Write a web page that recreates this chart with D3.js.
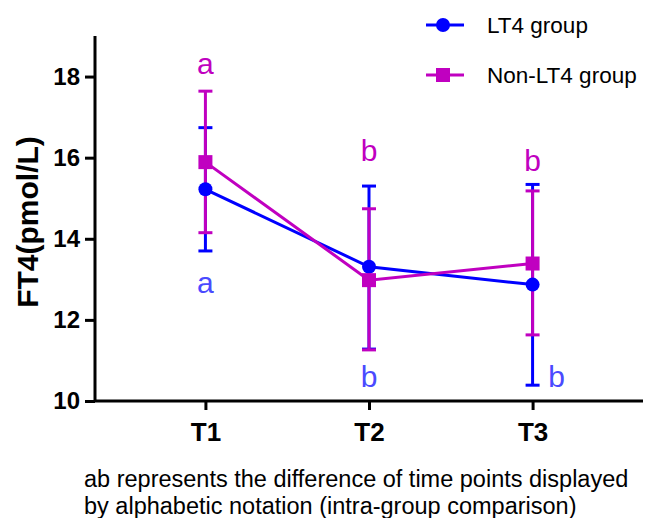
<!DOCTYPE html>
<html>
<head>
<meta charset="utf-8">
<script src="https://cdn.jsdelivr.net/npm/d3@7"></script>
<style>
  body { margin: 0; background: #fff; }
  text { font-family: "Liberation Sans", Arial, sans-serif; }
</style>
</head>
<body>
<svg id="chart" width="650" height="518"></svg>
<script>
// time points and group data (pmol/L)
const timePoints = ["T1", "T2", "T3"];
const yTicks = [10, 12, 14, 16, 18];

const lt4Mean  = [15.22, 13.31, 12.87];
const lt4Upper = [16.74, 15.30, 15.34];
const lt4Lower = [13.70, 11.28, 10.39];

const nonMean  = [15.89, 12.98, 13.39];
const nonUpper = [17.64, 14.74, 15.18];
const nonLower = [14.15, 11.26, 11.63];

// significance letters and where they sit (in data units)
const lt4Letters  = ["a", "b", "b"];
const lt4LetterY  = [12.91, 10.6, 10.6];
const nonLetters  = ["a", "b", "b"];
const nonLetterY  = [18.33, 16.17, 15.94];

const BLUE = "#0000ff";
const MAGENTA = "#c000c0";

const svg = d3.select("#chart");
const m = { left: 95, right: 643, top: 36, bottom: 401 };

const x = d3.scalePoint().domain(timePoints).range([m.left, m.right]).padding(0.675);
const y = d3.scaleLinear().domain([10, 19]).range([m.bottom, m.top]);

// axes
const yAxis = svg.append("g")
  .attr("transform", `translate(${m.left},0)`)
  .call(d3.axisLeft(y).tickValues(yTicks).tickSize(10).tickPadding(5));
const xAxis = svg.append("g")
  .attr("transform", `translate(0,${m.bottom})`)
  .call(d3.axisBottom(x).tickSize(9).tickPadding(13));

[yAxis, xAxis].forEach(g => {
  g.select(".domain").attr("stroke", "#000").attr("stroke-width", 3);
  g.selectAll(".tick line").attr("stroke", "#000").attr("stroke-width", 3);
  g.selectAll(".tick text")
    .attr("fill", "#000")
    .attr("font-weight", "bold");
});
yAxis.selectAll(".tick text").attr("font-size", 24);
xAxis.selectAll(".tick text").attr("font-size", 26).attr("dy", "0.71em");
yAxis.select(".domain").attr("d", `M0,${m.top}V${m.bottom}`);
xAxis.select(".domain").attr("d", `M${m.left},0H${m.right}`);

svg.append("text")
  .attr("transform", `translate(27,222) rotate(-90)`)
  .attr("text-anchor", "middle")
  .attr("dominant-baseline", "central")
  .attr("font-size", 30)
  .attr("font-weight", "bold")
  .text("FT4(pmol/L)");

const groups = [
  { name: "LT4 group", color: BLUE, mean: lt4Mean, lo: lt4Lower, hi: lt4Upper, marker: "circle" },
  { name: "Non-LT4 group", color: MAGENTA, mean: nonMean, lo: nonLower, hi: nonUpper, marker: "square" }
];

const capHalf = 7;

// error bars
groups.forEach(g => {
  const eb = svg.append("g").attr("stroke", g.color).attr("stroke-width", 3);
  timePoints.forEach((t, i) => {
    const cx = x(t);
    eb.append("line").attr("x1", cx).attr("x2", cx).attr("y1", y(g.lo[i])).attr("y2", y(g.hi[i]));
    eb.append("line").attr("x1", cx - capHalf).attr("x2", cx + capHalf).attr("y1", y(g.lo[i])).attr("y2", y(g.lo[i]));
    eb.append("line").attr("x1", cx - capHalf).attr("x2", cx + capHalf).attr("y1", y(g.hi[i])).attr("y2", y(g.hi[i]));
  });
});

// lines
const line = d3.line().x((d, i) => x(timePoints[i])).y(d => y(d));
groups.forEach(g => {
  svg.append("path")
    .datum(g.mean)
    .attr("d", line)
    .attr("fill", "none")
    .attr("stroke", g.color)
    .attr("stroke-width", 3);
});

// markers
function drawMarker(sel, type, cx, cy, color) {
  if (type === "circle") {
    sel.append("circle").attr("cx", cx).attr("cy", cy).attr("r", 7).attr("fill", color);
  } else {
    sel.append("rect").attr("x", cx - 7).attr("y", cy - 7).attr("width", 14).attr("height", 14).attr("fill", color);
  }
}
groups.forEach(g => {
  const mk = svg.append("g");
  g.mean.forEach((v, i) => drawMarker(mk, g.marker, x(timePoints[i]), y(v), g.color));
});

// letters
const letterFont = 30;
nonLetters.forEach((l, i) => {
  svg.append("text")
    .attr("x", x(timePoints[i])).attr("y", y(nonLetterY[i]))
    .attr("text-anchor", "middle").attr("dominant-baseline", "central")
    .attr("font-size", letterFont).attr("fill", MAGENTA)
    .text(l);
});
lt4Letters.forEach((l, i) => {
  const shift = i === 2 ? 24 : 0;
  svg.append("text")
    .attr("x", x(timePoints[i]) + shift).attr("y", y(lt4LetterY[i]))
    .attr("text-anchor", "middle").attr("dominant-baseline", "central")
    .attr("font-size", letterFont).attr("fill", "#4a4aff")
    .text(l);
});

// legend
const legend = svg.append("g").attr("transform", "translate(426,25)");
groups.forEach((g, i) => {
  const row = legend.append("g").attr("transform", `translate(0,${i * 50})`);
  row.append("line").attr("x1", 0).attr("x2", 38).attr("stroke", g.color).attr("stroke-width", 3);
  drawMarker(row, g.marker, 17, 0, g.color);
  row.append("text")
    .attr("x", 61).attr("y", 0)
    .attr("dominant-baseline", "central")
    .attr("font-size", 22.5).attr("fill", "#000")
    .text(g.name);
});

// caption
const caption = ["ab represents the difference of time points displayed",
                 "by alphabetic notation (intra-group comparison)"];
svg.append("g")
  .selectAll("text").data(caption).join("text")
  .attr("x", 84).attr("y", (d, i) => 487 + i * 27)
  .attr("font-size", 23.5).attr("fill", "#000")
  .text(d => d);
</script>
</body>
</html>
